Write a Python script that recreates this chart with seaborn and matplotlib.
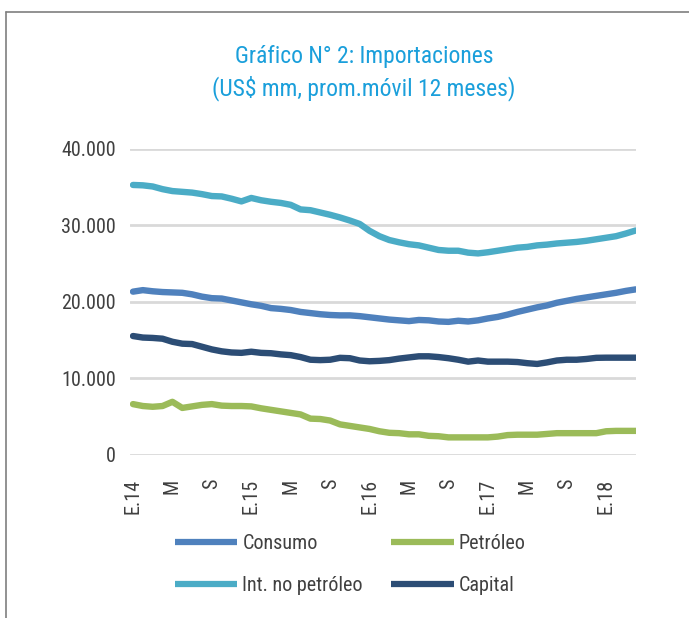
import numpy as np
import pandas as pd
import matplotlib
matplotlib.use("Agg")
import matplotlib.pyplot as plt
import matplotlib.transforms as mtransforms
from matplotlib.lines import Line2D
import seaborn as sns

# monthly 12-month moving average, Jan 2014 - Apr 2018 (US$ mm)
consumo = [21350, 21550, 21400, 21300, 21250, 21200, 21000, 20700, 20500, 20450,
           20200, 19950, 19700, 19500, 19200, 19100, 18950, 18700, 18550, 18400,
           18300, 18250, 18250, 18150, 18000, 17850, 17700, 17600, 17500, 17650,
           17600, 17450, 17400, 17550, 17450, 17600, 17850, 18050, 18350, 18700,
           19000, 19300, 19550, 19900, 20150, 20400, 20600, 20800, 21000, 21200,
           21450, 21650]
petroleo = [6650, 6400, 6300, 6400, 6950, 6150, 6350, 6550, 6650, 6450,
            6400, 6400, 6350, 6100, 5900, 5700, 5500, 5300, 4750, 4700,
            4500, 4000, 3800, 3600, 3400, 3100, 2900, 2850, 2700, 2700,
            2500, 2450, 2300, 2300, 2300, 2300, 2300, 2400, 2600, 2650,
            2650, 2650, 2750, 2850, 2850, 2850, 2850, 2850, 3100, 3150,
            3150, 3150]
int_no_petroleo = [35300, 35250, 35100, 34750, 34500, 34400, 34300, 34100, 33850, 33800,
                   33500, 33150, 33600, 33300, 33100, 32950, 32700, 32100, 32000, 31700,
                   31400, 31050, 30650, 30200, 29300, 28600, 28100, 27800, 27550, 27400,
                   27100, 26800, 26700, 26700, 26450, 26350, 26500, 26700, 26900, 27100,
                   27200, 27400, 27500, 27650, 27750, 27850, 28000, 28200, 28400, 28600,
                   28950, 29350]
capital = [15550, 15350, 15300, 15200, 14800, 14550, 14500, 14150, 13800, 13550,
           13400, 13350, 13500, 13350, 13300, 13150, 13050, 12800, 12450, 12400,
           12450, 12700, 12650, 12350, 12250, 12300, 12400, 12600, 12750, 12900,
           12900, 12800, 12650, 12450, 12200, 12350, 12200, 12200, 12200, 12150,
           12000, 11900, 12100, 12350, 12450, 12450, 12550, 12700, 12720, 12720,
           12720, 12720]

series_names = ["Consumo", "Int. no petróleo", "Petróleo", "Capital"]
series_colors = ["#4F81BD", "#4BACC6", "#9BBB59", "#2C4D75"]
tick_labels = ["E.14", "M", "S", "E.15", "M", "S", "E.16", "M", "S",
               "E.17", "M", "S", "E.18"]
y_ticks = [0, 10000, 20000, 30000, 40000]

sns.set_theme(style="white")
plt.rcParams["font.family"] = ["Roboto Condensed", "DejaVu Sans"]

n = len(consumo)
frame = pd.DataFrame({
    "mes": list(range(n)) * 4,
    "valor": consumo + int_no_petroleo + petroleo + capital,
    "serie": ["Consumo"] * n + ["Int. no petróleo"] * n + ["Petróleo"] * n + ["Capital"] * n,
})

fig = plt.figure(figsize=(6.89, 6.18), dpi=100)
ax = fig.add_axes([0.1887, 0.2638, 0.734, 0.4951])

sns.lineplot(data=frame, x="mes", y="valor", hue="serie", hue_order=series_names,
             palette=series_colors, linewidth=4.6, ax=ax, legend=False,
             solid_capstyle="round")

ax.set_xlim(-0.3, n - 1)
ax.set_ylim(0, 40000)
ax.set_yticks(y_ticks)
ax.set_yticklabels([f"{v:,}".replace(",", ".") for v in y_ticks],
                   fontsize=14.5, color="#404040")
ax.set_xticks(range(0, 4 * len(tick_labels), 4))
ax.set_xticklabels(tick_labels, rotation=90, fontsize=14.5, color="#404040")
offset = mtransforms.ScaledTranslation(7 / 100, 0, fig.dpi_scale_trans)
for lab in ax.get_xticklabels():
    lab.set_transform(lab.get_transform() + offset)
ax.tick_params(axis="x", length=0, pad=17)
ax.tick_params(axis="y", length=0, pad=10)
ax.set_xlabel("")
ax.set_ylabel("")
ax.yaxis.grid(True, color="#D9D9D9", linewidth=2)
ax.xaxis.grid(False)
ax.set_axisbelow(True)
for s in ax.spines.values():
    s.set_visible(False)

fig.text(0.528, 1 - 57 / 618, "Gráfico N° 2: Importaciones", ha="center", va="center",
         fontsize=17, color="#1A9FDB")
fig.text(0.528, 1 - 88 / 618, "(US$ mm, prom.móvil 12 meses)", ha="center", va="center",
         fontsize=17, color="#1A9FDB")

# outer frame (top and left edges)
fig.add_artist(Line2D([6 / 689, 1], [1 - 12 / 618, 1 - 12 / 618],
                      transform=fig.transFigure, color="#7F7F7F", linewidth=1.2))
fig.add_artist(Line2D([6 / 689, 6 / 689], [0, 1 - 12 / 618],
                      transform=fig.transFigure, color="#7F7F7F", linewidth=1.2))

handles = [Line2D([], [], color=c, linewidth=4.5, solid_capstyle="butt")
           for c in series_colors]
fig.legend(handles, series_names, ncol=2, frameon=False,
           loc="upper left", bbox_to_anchor=(175 / 689, 1 - 534 / 618),
           fontsize=14.5, labelcolor="#404040", handlelength=3.1,
           handletextpad=0.25, columnspacing=1.4, labelspacing=1.15,
           borderpad=0, borderaxespad=0)

fig.savefig("out.png", dpi=100)
